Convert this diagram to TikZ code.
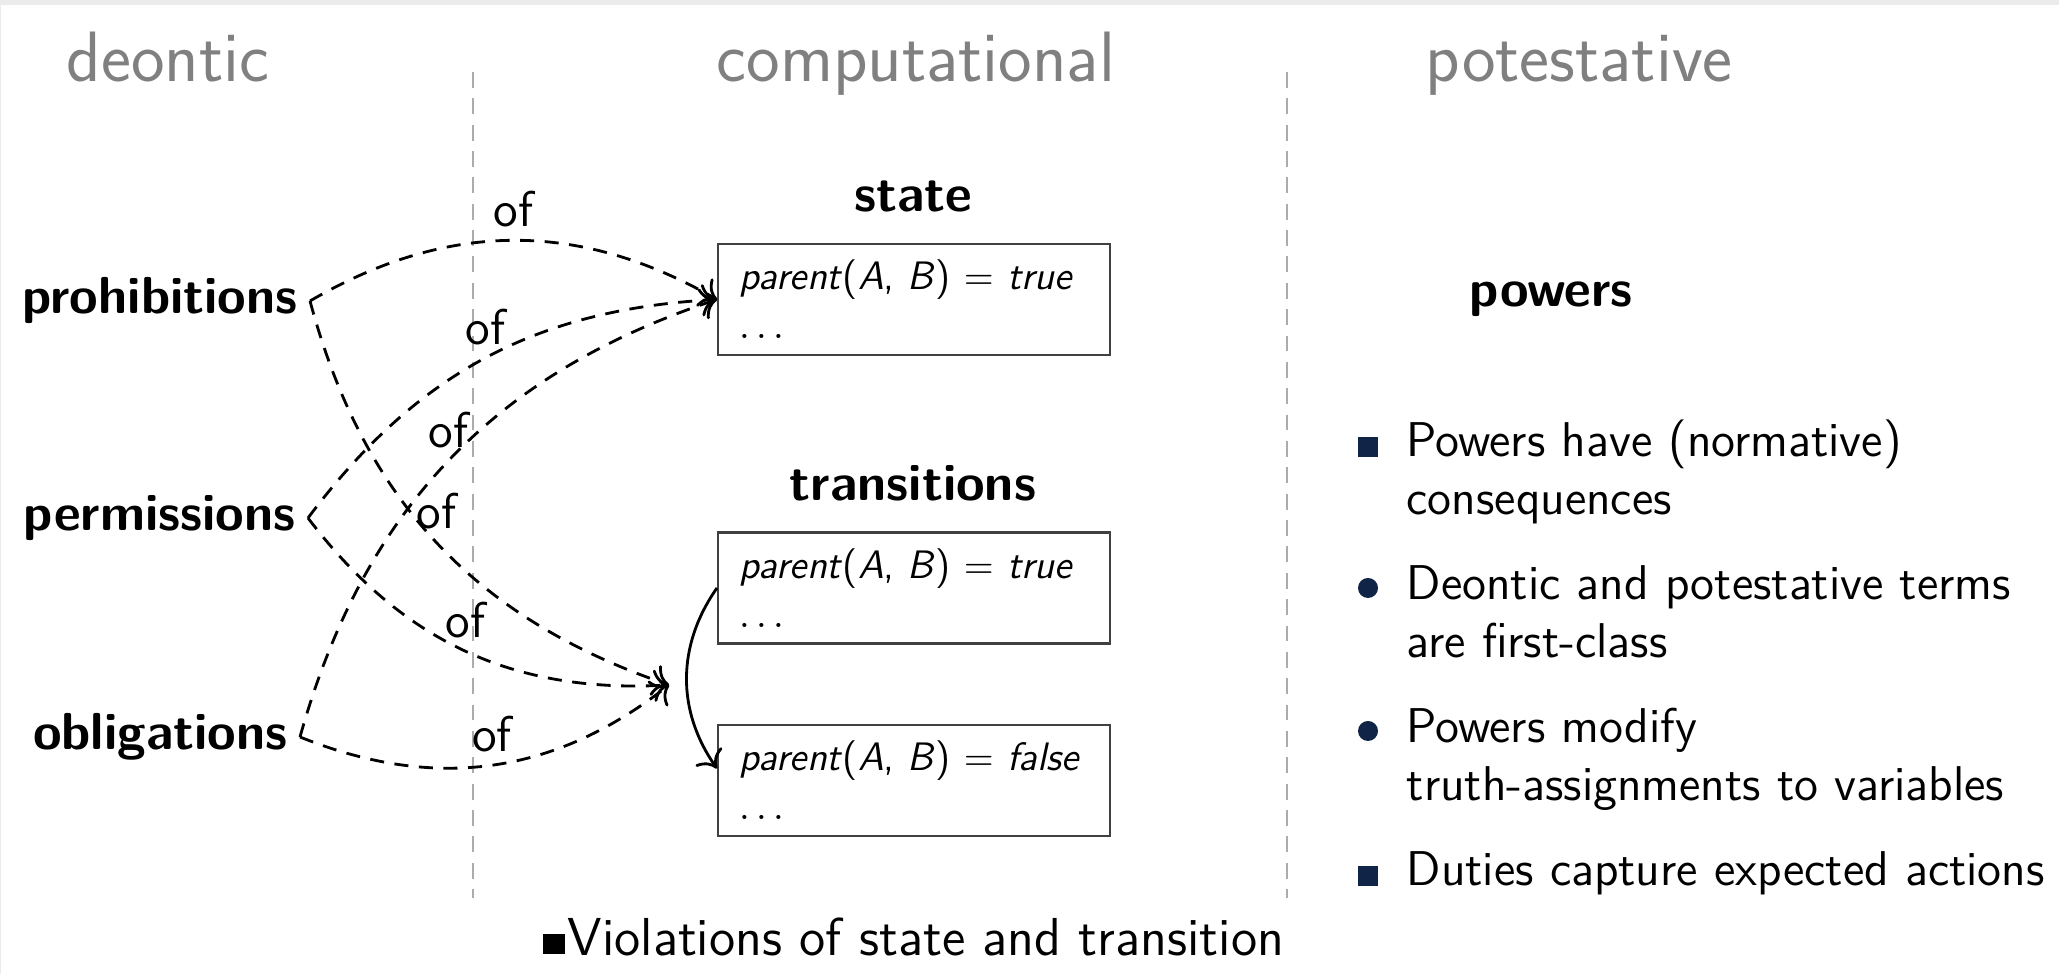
\documentclass[tikz,border=0pt]{standalone}
\usetikzlibrary{positioning,arrows.meta}
\renewcommand{\familydefault}{\sfdefault}
\definecolor{headgray}{RGB}{128,128,128}
\definecolor{itemblue}{RGB}{16,36,72}
\tikzset{
  head/.style={text=headgray, font=\fontsize{20.3}{24}\selectfont, inner sep=0pt, anchor=base west},
  term/.style={font=\bfseries\fontsize{14.8}{18}\selectfont, anchor=east},
  title/.style={font=\bfseries\fontsize{14.8}{18}\selectfont, inner sep=0pt, anchor=base},
  valbox/.style={draw=black!75, line width=0.6pt, text width=3.5cm, minimum height=1.11cm,
    inner xsep=0.21cm, align=left, font=\fontsize{11.3}{14}\selectfont},
  ofarrow/.style={-{To[scale=1.3]}, line width=0.8pt, dash pattern=on 4pt off 3pt},
  oflabel/.style={font=\fontsize{14.3}{17}\selectfont, above},
  sepline/.style={gray!65, line width=0.8pt, dash pattern=on 4.5pt off 3pt},
  item/.style={font=\fontsize{13.9}{16.4}\selectfont, text width=6.6cm, align=left,
    inner sep=0pt, anchor=base west},
  sqbullet/.style={fill=itemblue, minimum size=0.2cm, inner sep=0pt},
  dotbullet/.style={fill=itemblue, circle, minimum size=0.2cm, inner sep=0pt}
}
\begin{document}
\begin{tikzpicture}
      \useasboundingbox (0,0) rectangle (20.59,9.74);
      \fill[black!8] (0,9.69) rectangle (20.59,9.74);
      \fill[black!8] (0,0) rectangle (0.015,9.74);
      % column heads
      \node[head] (hdeon) at (0.66,8.92) {deontic};
      \node[head] (hcomp) at (7.16,8.92) {computational};
      \node[head] (hpote) at (14.25,8.92) {potestative};
      \draw[sepline] (4.73,9.02) -- (4.73,0.76);
      \draw[sepline] (12.87,9.02) -- (12.87,0.76);
      % deontic terms
      \node[term] (prohib) at (3.10,6.73) {prohibitions};
      \node[term] (permis) at (3.08,4.56) {permissions};
      \node[term] (oblig) at (3.00,2.37) {obligations};
      % computational side
      \node[title] (state) at (9.13,7.62) {state};
      \node[valbox] (box1) at (9.14,6.745) {\textit{parent}(\textit{A}, \textit{B}) $=$ \textit{true}\\ $\ldots$};
      \node[title] (trans) at (9.13,4.73) {transitions};
      \node[valbox] (box2) at (9.14,3.86) {\textit{parent}(\textit{A}, \textit{B}) $=$ \textit{true}\\ $\ldots$};
      \node[valbox] (box3) at (9.14,1.935) {\textit{parent}(\textit{A}, \textit{B}) $=$ \textit{false}\\ $\ldots$};
      \coordinate (change) at (6.69,2.89);
      \draw[-{To[scale=1.3]}, line width=0.8pt] (box2.west) to[bend right=35] ([yshift=1.2mm]box3.west);
      \begin{scope}[ofarrow]
        \draw (prohib.east) to[bend left=30] node[oflabel] (of1) {of} (box1.west);
        \draw (permis.east) to[bend left=25] node[oflabel] (of2) {of} (box1.west);
        \draw (oblig.east) to[bend left=28] node[oflabel] (of3) {of} (box1.west);
        \draw (prohib.east) to[bend right=28] node[oflabel] (of4) {of} (change);
        \draw (permis.east) to[bend right=28] node[oflabel] (of5) {of} (change);
        \draw (oblig.east) to[bend right=30] node[oflabel] (of6) {of} (change);
      \end{scope}
      % potestative side
      \node[title] (powers) at (15.51,6.67) {powers};
      \node[item] (it1) at (14.06,5.17) {Powers have (normative)\\ consequences};
      \node[item] (it2) at (14.06,3.74) {Deontic and potestative terms\\ are first-class};
      \node[item] (it3) at (14.06,2.31) {Powers modify\\ truth-assignments to variables};
      \node[item] (it4) at (14.06,0.88) {Duties capture expected actions};
      \node[sqbullet] (b1) at (13.68,5.27) {};
      \node[dotbullet] (b2) at (13.68,3.86) {};
      \node[dotbullet] (b3) at (13.68,2.43) {};
      \node[sqbullet] (b4) at (13.68,0.98) {};
      \node[fill=black, minimum width=0.22cm, minimum height=0.2cm, inner sep=0pt, anchor=south west] (vsq) at (5.42,0.19) {};
      \node[font=\fontsize{15.2}{18}\selectfont, inner sep=0pt, anchor=base west] (viol) at (5.67,0.18)
        {Violations of state and transition};
    \end{tikzpicture}
\end{document}
